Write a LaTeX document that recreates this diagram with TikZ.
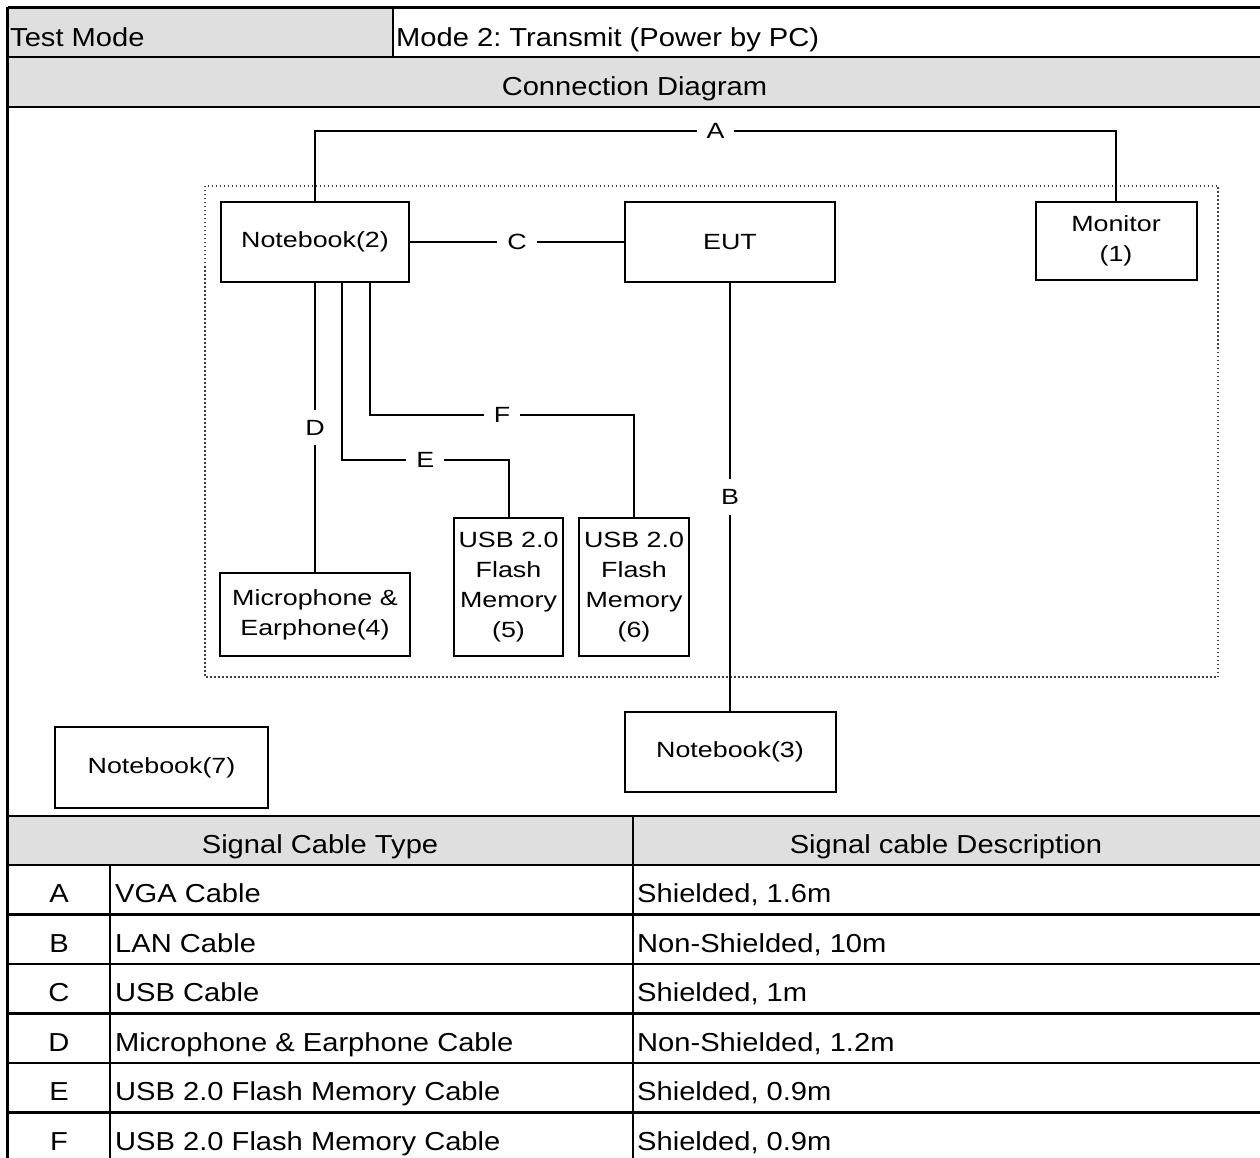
\documentclass[tikz,border=0pt]{standalone}
\usepackage{fontspec}
\setmainfont[FakeStretch=1.12]{Liberation Sans}
\newfontfamily\unitfont[FakeStretch=1.22]{Liberation Sans}
\usetikzlibrary{positioning}
\definecolor{cellgray}{RGB}{223,223,223}
\frenchspacing
\tikzset{node distance=2cm,
  unit box/.style={draw, line width=2pt, align=center, font=\unitfont\fontsize{22}{30}\selectfont},
  cable/.style={line width=2pt},
  cable tag/.style={fill=white, inner sep=10pt, font=\unitfont\fontsize{22}{26}\selectfont},
  grid line/.style={line width=2.5pt},
  cell text/.style={font=\fontsize{26}{30}\selectfont, inner sep=0pt, text height=19pt, text depth=0pt}}

\begin{document}
\begin{tikzpicture}[x=1pt, y=-1pt]
\useasboundingbox (0,0) rectangle (1260,1158);
\fill[cellgray] (7.5,7.5) rectangle (393,57);
\fill[cellgray] (7.5,57) rectangle (1262,107);
\fill[cellgray] (7.5,816) rectangle (1262,865);
\draw[grid line] (7.5,7.5) -- (1262,7.5);
\draw[grid line] (7.5,57) -- (1262,57);
\draw[grid line] (7.5,107) -- (1262,107);
\draw[grid line] (7.5,816) -- (1262,816);
\draw[grid line] (7.5,865) -- (1262,865);
\foreach \r in {1,...,6}
  \draw[grid line] (7.5,865+49.5*\r) -- (1262,865+49.5*\r);
\draw[grid line] (7.5,7.5) -- (7.5,1162);
\draw[grid line] (393,7.5) -- (393,57);
\draw[grid line] (633,816) -- (633,1162);
\draw[grid line] (110,865) -- (110,1162);

\node[cell text, anchor=west] (mode) at (10,37) {Test Mode};
\node[cell text, anchor=west] (modeval) at (396,37) {Mode 2: Transmit (Power by PC)};
\node[cell text] (conn) at (634.5,86) {Connection Diagram};
\node[cell text] (typehead) at (320,844) {Signal Cable Type};
\node[cell text] (deschead) at (946,844) {Signal cable Description};
\foreach \id/\kind/\desc [count=\i] in {A/VGA Cable/{Shielded, 1.6m},
    B/LAN Cable/{Non-Shielded, 10m}, C/USB Cable/{Shielded, 1m},
    D/Microphone \& Earphone Cable/{Non-Shielded, 1.2m},
    E/USB 2.0 Flash Memory Cable/{Shielded, 0.9m},
    F/USB 2.0 Flash Memory Cable/{Shielded, 0.9m}} {
  \node[cell text] (id\i) at (59,865+49.5*\i-21.5) {\id};
  \node[cell text, anchor=west] (kind\i) at (115,865+49.5*\i-21.5) {\kind};
  \node[cell text, anchor=west] (desc\i) at (637,865+49.5*\i-21.5) {\desc};
}

\draw[line width=2pt, black!75, dash pattern=on 1.5pt off 2.5pt] (205,186) rectangle (1218,677);

\node[unit box, minimum width=188pt, minimum height=80pt] (nb2) at (315,242) {Notebook(2)};
\node[unit box, minimum width=210pt, minimum height=80pt] (eut) at (730,242) {EUT};
\node[unit box, minimum width=161pt, minimum height=78pt] (mon) at (1116,241) {Monitor\\(1)};
\node[unit box, minimum width=211pt, minimum height=80pt] (nb3) at (730,752) {Notebook(3)};
\node[unit box, minimum width=213pt, minimum height=81pt] (nb7) at (161.5,767.5) {Notebook(7)};
\node[unit box, minimum width=190pt, minimum height=83pt] (mic) at (315,614.5) {Microphone \&\\Earphone(4)};
\node[unit box, minimum width=109pt, minimum height=138pt] (usb5) at (508.5,587) {USB 2.0\\Flash\\Memory\\(5)};
\node[unit box, minimum width=110pt, minimum height=138pt] (usb6) at (634,587) {USB 2.0\\Flash\\Memory\\(6)};

\draw[cable] (nb2.north) -- (nb2.north |- 0,131) -- node[cable tag]{A} (mon.north |- 0,131) -- (mon.north);
\draw[cable] (nb2) -- node[cable tag]{C} (eut);
\draw[cable] (eut) -- node[cable tag]{B} (nb3);
\draw[cable] (nb2) -- node[cable tag]{D} (mic);
\draw[cable] ([xshift=27pt]nb2.south) -- ([xshift=27pt]nb2.south |- 0,460) -- node[cable tag]{E} (usb5.north |- 0,460) -- (usb5.north);
\draw[cable] ([xshift=55pt]nb2.south) -- ([xshift=55pt]nb2.south |- 0,415) -- node[cable tag]{F} (usb6.north |- 0,415) -- (usb6.north);
\end{tikzpicture}
\end{document}
